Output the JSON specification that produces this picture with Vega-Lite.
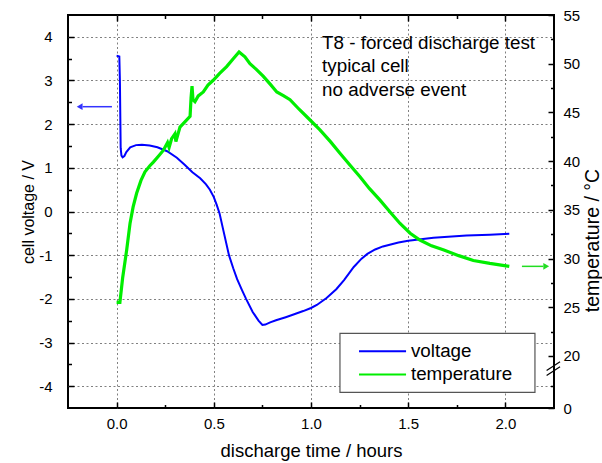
{
  "$schema": "https://vega.github.io/schema/vega-lite/v6.json",
  "width": 486,
  "height": 393,
  "autosize": {"type": "none"},
  "padding": {"left": 68, "top": 15, "right": 48, "bottom": 55},
  "background": "white",
  "config": {
    "view": {"stroke": "black", "strokeWidth": 2},
    "font": "Liberation Sans",
    "axis": {
      "domain": false,
      "tickColor": "black",
      "tickWidth": 1.5,
      "labelColor": "black",
      "titleColor": "black",
      "labelFont": "Liberation Sans",
      "titleFont": "Liberation Sans",
      "titleFontWeight": "normal",
      "labelFontSize": 15,
      "gridColor": "#808080",
      "gridDash": [2, 2.5],
      "gridWidth": 1
    }
  },
  "datasets": {
    "voltage": [
      {"t": 0.0, "v": 3.57}, {"t": 0.014, "v": 3.55}, {"t": 0.017, "v": 3.0},
      {"t": 0.019, "v": 2.2}, {"t": 0.021, "v": 1.45}, {"t": 0.025, "v": 1.28},
      {"t": 0.031, "v": 1.24}, {"t": 0.04, "v": 1.27}, {"t": 0.05, "v": 1.36},
      {"t": 0.07, "v": 1.47}, {"t": 0.1, "v": 1.52}, {"t": 0.13, "v": 1.53},
      {"t": 0.17, "v": 1.51}, {"t": 0.21, "v": 1.47}, {"t": 0.26, "v": 1.38},
      {"t": 0.31, "v": 1.23}, {"t": 0.35, "v": 1.07}, {"t": 0.39, "v": 0.9},
      {"t": 0.43, "v": 0.76}, {"t": 0.46, "v": 0.62}, {"t": 0.48, "v": 0.5},
      {"t": 0.5, "v": 0.33}, {"t": 0.515, "v": 0.15}, {"t": 0.53, "v": -0.05},
      {"t": 0.55, "v": -0.45}, {"t": 0.578, "v": -1.0}, {"t": 0.6, "v": -1.3},
      {"t": 0.62, "v": -1.55}, {"t": 0.645, "v": -1.8}, {"t": 0.666, "v": -2.0},
      {"t": 0.7, "v": -2.3}, {"t": 0.73, "v": -2.5}, {"t": 0.75, "v": -2.6},
      {"t": 0.765, "v": -2.59}, {"t": 0.79, "v": -2.54}, {"t": 0.82, "v": -2.49},
      {"t": 0.87, "v": -2.42}, {"t": 0.91, "v": -2.36}, {"t": 0.96, "v": -2.28},
      {"t": 1.0, "v": -2.21}, {"t": 1.03, "v": -2.14}, {"t": 1.08, "v": -1.98},
      {"t": 1.13, "v": -1.78}, {"t": 1.17, "v": -1.57}, {"t": 1.22, "v": -1.27},
      {"t": 1.26, "v": -1.08}, {"t": 1.29, "v": -0.97}, {"t": 1.33, "v": -0.87},
      {"t": 1.37, "v": -0.8}, {"t": 1.45, "v": -0.71}, {"t": 1.5, "v": -0.67},
      {"t": 1.63, "v": -0.6}, {"t": 1.8, "v": -0.55}, {"t": 1.92, "v": -0.53},
      {"t": 2.02, "v": -0.51}
    ],
    "temperature": [
      {"t": 0.0, "temp": 25.5}, {"t": 0.017, "temp": 25.5}, {"t": 0.031, "temp": 28.0},
      {"t": 0.052, "temp": 30.9}, {"t": 0.069, "temp": 33.6}, {"t": 0.085, "temp": 35.3},
      {"t": 0.103, "temp": 36.7}, {"t": 0.125, "temp": 38.0}, {"t": 0.146, "temp": 38.9},
      {"t": 0.17, "temp": 39.5}, {"t": 0.189, "temp": 39.9}, {"t": 0.215, "temp": 40.5},
      {"t": 0.24, "temp": 41.1}, {"t": 0.262, "temp": 41.9}, {"t": 0.27, "temp": 41.4},
      {"t": 0.283, "temp": 42.3}, {"t": 0.3, "temp": 42.8}, {"t": 0.305, "temp": 42.0},
      {"t": 0.326, "temp": 43.5}, {"t": 0.35, "temp": 44.0}, {"t": 0.378, "temp": 44.6},
      {"t": 0.383, "temp": 46.5}, {"t": 0.388, "temp": 47.7}, {"t": 0.393, "temp": 46.3},
      {"t": 0.403, "temp": 46.1}, {"t": 0.42, "temp": 46.7}, {"t": 0.446, "temp": 47.1},
      {"t": 0.47, "temp": 47.8}, {"t": 0.497, "temp": 48.3}, {"t": 0.53, "temp": 49.0},
      {"t": 0.566, "temp": 49.7}, {"t": 0.6, "temp": 50.5}, {"t": 0.63, "temp": 51.2},
      {"t": 0.66, "temp": 50.7}, {"t": 0.686, "temp": 50.0}, {"t": 0.72, "temp": 49.4},
      {"t": 0.755, "temp": 48.7}, {"t": 0.79, "temp": 47.9}, {"t": 0.824, "temp": 47.1},
      {"t": 0.86, "temp": 46.7}, {"t": 0.892, "temp": 46.3}, {"t": 0.94, "temp": 45.3},
      {"t": 0.986, "temp": 44.4}, {"t": 1.046, "temp": 43.2}, {"t": 1.1, "temp": 42.0},
      {"t": 1.149, "temp": 40.8}, {"t": 1.2, "temp": 39.6}, {"t": 1.252, "temp": 38.4},
      {"t": 1.3, "temp": 37.2}, {"t": 1.355, "temp": 36.0}, {"t": 1.41, "temp": 34.7},
      {"t": 1.458, "temp": 33.6}, {"t": 1.51, "temp": 32.6}, {"t": 1.56, "temp": 31.9},
      {"t": 1.62, "temp": 31.3}, {"t": 1.68, "temp": 30.9}, {"t": 1.76, "temp": 30.3},
      {"t": 1.835, "temp": 29.8}, {"t": 1.92, "temp": 29.5}, {"t": 2.02, "temp": 29.2}
    ],
    "voltageArrow": [{"t": -0.024, "t2": -0.175, "v": 2.4}],
    "voltageArrowHead": [{"t": -0.19, "v": 2.4}],
    "tempArrow": [{"t": 2.085, "t2": 2.195, "temp": 29.2}],
    "tempArrowHead": [{"t": 2.21, "temp": 29.2}],
    "axisBreak": [
      {"t": 2.212, "t2": 2.281, "temp": 18.0, "temp2": 18.9},
      {"t": 2.212, "t2": 2.281, "temp": 18.5, "temp2": 19.4}
    ],
    "notes": [
      {"t": 1.057, "v": 3.87, "text": "T8 - forced discharge test"},
      {"t": 1.057, "v": 3.34, "text": "typical cell"},
      {"t": 1.057, "v": 2.79, "text": "no adverse event"}
    ],
    "legendBox": [{"t": 1.149, "t2": 2.152, "v": -2.79, "v2": -4.14}],
    "legendKeys": [
      {"series": "voltage", "t": 1.247, "t2": 1.489, "tl": 1.514, "v": -3.2},
      {"series": "temperature", "t": 1.247, "t2": 1.489, "tl": 1.514, "v": -3.73}
    ]
  },
  "layer": [
    {
      "data": {"name": "voltage"},
      "mark": {"type": "line", "color": "#0000ff", "strokeWidth": 2},
      "encoding": {
        "x": {
          "field": "t", "type": "quantitative",
          "scale": {"domain": [-0.25, 2.25], "nice": false, "zero": false},
          "axis": {
            "orient": "bottom", "values": [0, 0.5, 1, 1.5, 2], "format": ".1f",
            "tickSize": -6, "labelPadding": 14, "grid": true,
            "title": "discharge time / hours", "titleFontSize": 18.5,
            "titleY": 48, "titleBaseline": "alphabetic"
          }
        },
        "y": {
          "field": "v", "type": "quantitative",
          "scale": {"domain": [-4.5, 4.5], "nice": false, "zero": false},
          "axis": {
            "orient": "left", "values": [-4, -3, -2, -1, 0, 1, 2, 3, 4],
            "labelExpr": "'' + datum.value",
            "tickSize": -6, "labelPadding": 22, "grid": true,
            "title": "cell voltage / V", "titleFontSize": 16,
            "titleX": -35, "titleY": 196.5, "titleBaseline": "alphabetic"
          }
        }
      }
    },
    {
      "data": {"name": "temperature"},
      "mark": {"type": "line", "color": "#00ee00", "strokeWidth": 3.2},
      "encoding": {
        "x": {
          "field": "t", "type": "quantitative",
          "scale": {"domain": [-0.25, 2.25], "nice": false, "zero": false},
          "axis": {
            "orient": "top", "values": [0, 0.5, 1, 1.5, 2], "labels": false,
            "tickSize": -6, "grid": false, "title": null
          }
        },
        "y": {
          "field": "temp", "type": "quantitative",
          "scale": {"domain": [14.66, 55], "nice": false, "zero": false},
          "axis": {
            "orient": "right", "values": [14.66, 20, 25, 30, 35, 40, 45, 50, 55],
            "labelExpr": "datum.value < 15 ? '0' : '' + datum.value",
            "tickSize": -6, "labelPadding": 15, "grid": false,
            "title": "temperature /  °C", "titleFontSize": 19.5, "titleAngle": 270,
            "titleX": 29, "titleY": 225, "titleBaseline": "top", "titleAlign": "center"
          }
        }
      }
    },
    {
      "data": {"name": "voltageArrow"},
      "mark": {"type": "rule", "color": "#3333ff", "strokeWidth": 1.5},
      "encoding": {
        "x": {
          "field": "t", "type": "quantitative",
          "scale": {"domain": [-0.25, 2.25], "nice": false, "zero": false},
          "axis": {
            "orient": "bottom", "values": [0.25, 0.75, 1.25, 1.75], "labels": false,
            "tickSize": -3.5, "grid": false, "title": null
          }
        },
        "x2": {"field": "t2"},
        "y": {
          "field": "v", "type": "quantitative",
          "scale": {"domain": [-4.5, 4.5], "nice": false, "zero": false},
          "axis": {
            "orient": "left", "values": [-3.5, -2.5, -1.5, -0.5, 0.5, 1.5, 2.5, 3.5],
            "labels": false, "tickSize": -3.5, "grid": false, "title": null
          }
        }
      }
    },
    {
      "data": {"name": "voltageArrowHead"},
      "mark": {"type": "point", "shape": "triangle-left", "filled": true, "color": "#3333ff", "size": 45, "opacity": 1},
      "encoding": {
        "x": {"field": "t", "type": "quantitative", "scale": {"domain": [-0.25, 2.25], "nice": false, "zero": false}, "axis": null},
        "y": {"field": "v", "type": "quantitative", "scale": {"domain": [-4.5, 4.5], "nice": false, "zero": false}, "axis": null}
      }
    },
    {
      "data": {"name": "tempArrow"},
      "mark": {"type": "rule", "color": "#22dd22", "strokeWidth": 1.5},
      "encoding": {
        "x": {
          "field": "t", "type": "quantitative",
          "scale": {"domain": [-0.25, 2.25], "nice": false, "zero": false},
          "axis": {
            "orient": "top", "values": [0.25, 0.75, 1.25, 1.75], "labels": false,
            "tickSize": -3.5, "grid": false, "title": null
          }
        },
        "x2": {"field": "t2"},
        "y": {
          "field": "temp", "type": "quantitative",
          "scale": {"domain": [14.66, 55], "nice": false, "zero": false},
          "axis": {
            "orient": "right", "values": [16.9, 22.5, 27.5, 32.5, 37.5, 42.5, 47.5, 52.5],
            "labels": false, "tickSize": -3.5, "grid": false, "title": null
          }
        }
      }
    },
    {
      "data": {"name": "tempArrowHead"},
      "mark": {"type": "point", "shape": "triangle-right", "filled": true, "color": "#22dd22", "size": 45, "opacity": 1},
      "encoding": {
        "x": {"field": "t", "type": "quantitative", "scale": {"domain": [-0.25, 2.25], "nice": false, "zero": false}, "axis": null},
        "y": {"field": "temp", "type": "quantitative", "scale": {"domain": [14.66, 55], "nice": false, "zero": false}, "axis": null}
      }
    },
    {
      "data": {"name": "axisBreak"},
      "mark": {"type": "rule", "color": "black", "strokeWidth": 1.2},
      "encoding": {
        "x": {"field": "t", "type": "quantitative", "scale": {"domain": [-0.25, 2.25], "nice": false, "zero": false}, "axis": null},
        "x2": {"field": "t2"},
        "y": {"field": "temp", "type": "quantitative", "scale": {"domain": [14.66, 55], "nice": false, "zero": false}, "axis": null},
        "y2": {"field": "temp2"}
      }
    },
    {
      "data": {"name": "notes"},
      "mark": {"type": "text", "align": "left", "baseline": "middle", "fontSize": 18.8, "font": "Liberation Sans", "color": "black"},
      "encoding": {
        "x": {"field": "t", "type": "quantitative", "scale": {"domain": [-0.25, 2.25], "nice": false, "zero": false}, "axis": null},
        "y": {"field": "v", "type": "quantitative", "scale": {"domain": [-4.5, 4.5], "nice": false, "zero": false}, "axis": null},
        "text": {"field": "text"}
      }
    },
    {
      "data": {"name": "legendBox"},
      "mark": {"type": "rect", "fill": "white", "stroke": "#555555", "strokeWidth": 1.2},
      "encoding": {
        "x": {"field": "t", "type": "quantitative", "scale": {"domain": [-0.25, 2.25], "nice": false, "zero": false}, "axis": null},
        "x2": {"field": "t2"},
        "y": {"field": "v", "type": "quantitative", "scale": {"domain": [-4.5, 4.5], "nice": false, "zero": false}, "axis": null},
        "y2": {"field": "v2"}
      }
    },
    {
      "data": {"name": "legendKeys"},
      "mark": {"type": "rule", "strokeWidth": 2},
      "encoding": {
        "x": {"field": "t", "type": "quantitative", "scale": {"domain": [-0.25, 2.25], "nice": false, "zero": false}, "axis": null},
        "x2": {"field": "t2"},
        "y": {"field": "v", "type": "quantitative", "scale": {"domain": [-4.5, 4.5], "nice": false, "zero": false}, "axis": null},
        "color": {
          "field": "series", "type": "nominal",
          "scale": {"domain": ["voltage", "temperature"], "range": ["#0000ff", "#00ee00"]},
          "legend": null
        }
      }
    },
    {
      "data": {"name": "legendKeys"},
      "mark": {"type": "text", "align": "left", "baseline": "middle", "fontSize": 18.8, "font": "Liberation Sans", "color": "black"},
      "encoding": {
        "x": {"field": "tl", "type": "quantitative", "scale": {"domain": [-0.25, 2.25], "nice": false, "zero": false}, "axis": null},
        "y": {"field": "v", "type": "quantitative", "scale": {"domain": [-4.5, 4.5], "nice": false, "zero": false}, "axis": null},
        "text": {"field": "series"}
      }
    }
  ],
  "resolve": {
    "scale": {"y": "independent"},
    "axis": {"x": "independent", "y": "independent"}
  }
}
